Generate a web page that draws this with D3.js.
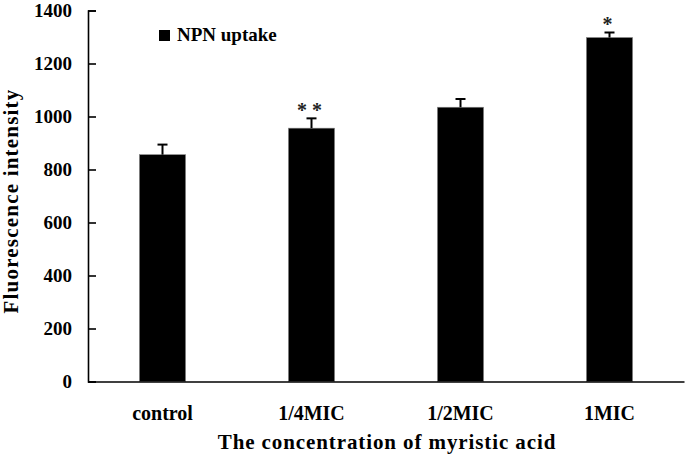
<!DOCTYPE html>
<html>
<head>
<meta charset="utf-8">
<script src="https://cdn.jsdelivr.net/npm/d3@7"></script>
<style>
  body { margin: 0; background: #fff; }
  text { font-family: "Liberation Serif", "Times New Roman", serif; font-weight: bold; fill: #000; }
</style>
</head>
<body>
<div id="chart"></div>
<script>
// data
var categories = ["control", "1/4MIC", "1/2MIC", "1MIC"];
var uptake = [856, 956, 1035, 1298];
var errors = [38, 37, 31, 19];
var marks = ["", "* *", "", "*"];
var yTicks = [0, 200, 400, 600, 800, 1000, 1200, 1400];

var svgWidth = 685;
var svgHeight = 457;

var svg = d3.select("#chart")
  .append("svg")
  .attr("width", svgWidth)
  .attr("height", svgHeight);

var xScale = d3.scaleBand()
  .domain(categories)
  .range([88, 684])
  .paddingInner(0.69)
  .paddingOuter(0.345);

var yScale = d3.scaleLinear()
  .domain([0, 1400])
  .range([381.5, 10.5]);

// bars
svg.selectAll("rect.bar")
  .data(categories)
  .enter()
  .append("rect")
  .attr("class", "bar")
  .attr("x", d => xScale(d))
  .attr("y", (d, i) => yScale(uptake[i]))
  .attr("width", xScale.bandwidth())
  .attr("height", (d, i) => yScale(0) - yScale(uptake[i]))
  .attr("fill", "#000")
  .attr("stroke", "#888")
  .attr("stroke-width", 0.6);

// error bars (upper only) and significance marks
categories.forEach(function(c, i) {
  var cx = xScale(c) + xScale.bandwidth() / 2;
  svg.append("line")
    .attr("x1", cx).attr("x2", cx)
    .attr("y1", yScale(uptake[i]))
    .attr("y2", yScale(uptake[i] + errors[i]))
    .attr("stroke", "#000")
    .attr("stroke-width", 2);
  svg.append("line")
    .attr("x1", cx - 5).attr("x2", cx + 5)
    .attr("y1", yScale(uptake[i] + errors[i]))
    .attr("y2", yScale(uptake[i] + errors[i]))
    .attr("stroke", "#000")
    .attr("stroke-width", 2);
  if (marks[i]) {
    svg.append("text")
      .attr("x", cx - 2)
      .attr("y", yScale(uptake[i] + errors[i]) - 1)
      .attr("text-anchor", "middle")
      .attr("font-size", "20px")
      .style("fill", "#222")
      .style("white-space", "pre")
      .text(marks[i]);
  }
});

// y axis, ticks pointing inward
var leftAxis = d3.axisRight(yScale)
  .tickValues(yTicks)
  .tickSize(8)
  .tickFormat("");

var yAxis = svg.append("g")
  .attr("transform", "translate(88,0)")
  .call(leftAxis);
yAxis.select(".domain").attr("stroke", "#000").attr("stroke-width", 1.6);
yAxis.selectAll(".tick line").attr("stroke", "#000").attr("stroke-width", 1.6);

svg.selectAll("text.ytick")
  .data(yTicks)
  .enter()
  .append("text")
  .attr("class", "ytick")
  .attr("x", 72)
  .attr("y", d => yScale(d))
  .attr("dy", "0.34em")
  .attr("text-anchor", "end")
  .attr("font-size", "19px")
  .text(d => d);

// x axis
var bottomAxis = d3.axisBottom(xScale).tickSize(0).tickFormat("");
var xAxis = svg.append("g")
  .attr("transform", "translate(0,381.5)")
  .call(bottomAxis);
xAxis.select(".domain").attr("stroke", "#000").attr("stroke-width", 1.6);

svg.selectAll("text.xtick")
  .data(categories)
  .enter()
  .append("text")
  .attr("class", "xtick")
  .attr("x", d => xScale(d) + xScale.bandwidth() / 2)
  .attr("y", 420)
  .attr("text-anchor", "middle")
  .attr("font-size", "20px")
  .text(d => d);

// axis titles
svg.append("text")
  .attr("x", 387)
  .attr("y", 449)
  .attr("text-anchor", "middle")
  .attr("font-size", "21px")
  .attr("letter-spacing", "0.9px")
  .text("The concentration of myristic acid");

svg.append("text")
  .attr("transform", "translate(18,201) rotate(-90)")
  .attr("text-anchor", "middle")
  .attr("font-size", "21px")
  .attr("letter-spacing", "1.2px")
  .text("Fluorescence intensity");

// legend
svg.append("rect")
  .attr("x", 159)
  .attr("y", 30)
  .attr("width", 11)
  .attr("height", 11)
  .attr("fill", "#000");

svg.append("text")
  .attr("x", 177)
  .attr("y", 41)
  .attr("font-size", "19px")
  .text("NPN uptake");
</script>
</body>
</html>
